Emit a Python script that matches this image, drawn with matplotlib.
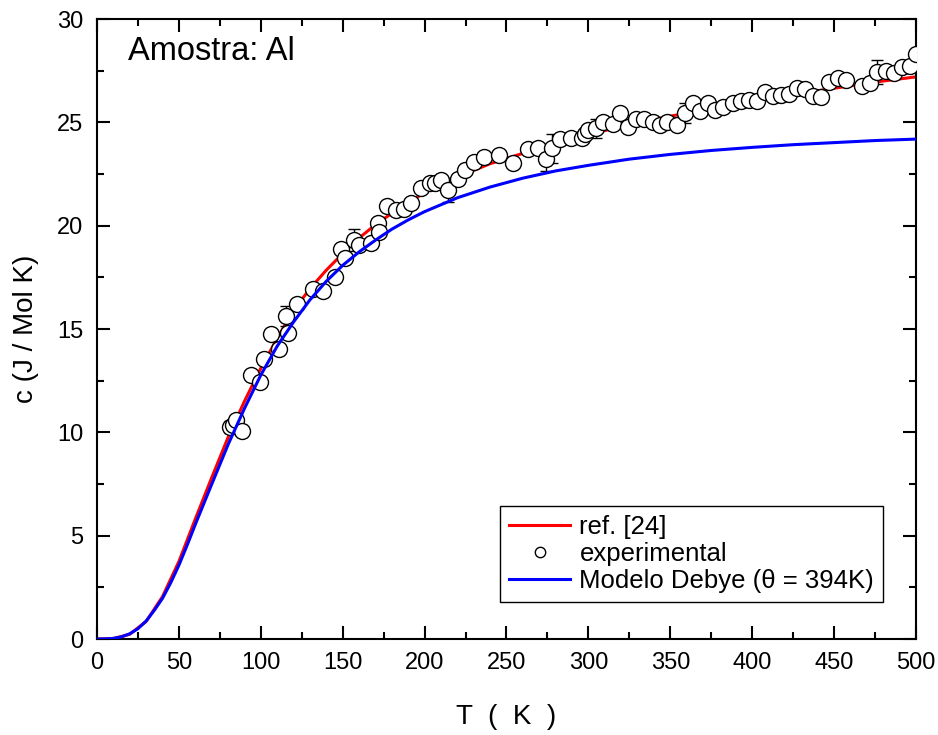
import matplotlib
matplotlib.use("Agg")
import matplotlib.pyplot as plt
from matplotlib.ticker import MultipleLocator

plt.rcParams['font.family'] = ['Liberation Sans', 'DejaVu Sans']

# curva de referencia [24]
T_ref = [0, 10, 20, 30, 40, 50, 60, 70, 80, 90, 100, 110, 120, 130, 140, 150,
         160, 170, 180, 190, 200, 220, 240, 260, 280, 300, 325, 350, 375, 400,
         425, 450, 475, 500]
c_ref = [0, 0.02, 0.23, 0.85, 2.05, 3.75, 5.8, 7.8, 9.75, 11.5, 13.1, 14.55,
         15.9, 16.95, 17.85, 18.65, 19.4, 20.05, 20.6, 21.1, 21.6, 22.35, 23.0,
         23.5, 23.95, 24.4, 24.9, 25.3, 25.65, 26.0, 26.35, 26.65, 26.95, 27.2]

# modelo de Debye (theta = 394 K)
T_deb = [0, 5, 10, 15, 20, 25, 30, 35, 40, 45, 50, 55, 60, 65, 70, 80, 90, 100,
         110, 120, 130, 140, 150, 160, 170, 180, 190, 200, 220, 240, 260, 280,
         300, 325, 350, 375, 400, 425, 450, 475, 500]
c_deb = [0, 0.004, 0.032, 0.107, 0.254, 0.5, 0.87, 1.39, 1.97, 2.72, 3.57,
         4.53, 5.54, 6.51, 7.48, 9.40, 11.15, 12.77, 14.17, 15.34, 16.41, 17.31,
         18.08, 18.73, 19.30, 19.83, 20.28, 20.68, 21.35, 21.87, 22.30, 22.65,
         22.92, 23.22, 23.45, 23.64, 23.79, 23.92, 24.02, 24.12, 24.19]

# dados experimentais
T_exp = [81.0, 83.0, 84.6, 88.3, 93.8, 99.5, 102.1, 106.2, 111.1, 115.2, 116.8,
         122.3, 131.7, 138.0, 145.3, 149.0, 151.4, 156.9, 160.0, 167.1, 171.3,
         172.2, 177.2, 182.4, 187.4, 191.5, 197.8, 203.3, 206.3, 210.0, 214.3,
         220.6, 224.7, 230.3, 236.3, 245.4, 254.0, 263.3, 269.2, 273.9, 277.6,
         282.7, 289.2, 295.9, 297.9, 299.9, 304.6, 309.1, 314.8, 319.3, 324.4,
         329.1, 334.1, 339.2, 343.7, 348.2, 353.9, 359.0, 364.0, 368.1, 373.2,
         377.3, 382.4, 388.1, 393.2, 398.1, 402.7, 407.8, 412.5, 417.6, 422.6,
         427.5, 432.2, 436.9, 442.0, 447.1, 452.2, 457.3, 466.8, 471.9, 476.0,
         481.5, 486.6, 491.3, 496.3, 500.0]
c_exp = [10.25, 10.35, 10.6, 10.08, 12.77, 12.45, 13.55, 14.74, 14.03, 15.63,
         14.79, 16.21, 16.92, 16.84, 17.53, 18.89, 18.42, 19.31, 19.06, 19.14,
         20.11, 19.71, 20.95, 20.78, 20.83, 21.11, 21.8, 22.05, 22.09, 22.2,
         21.73, 22.28, 22.69, 23.1, 23.3, 23.42, 23.02, 23.71, 23.74, 23.25,
         23.74, 24.19, 24.25, 24.22, 24.46, 24.65, 24.71, 25.04, 24.91, 25.47,
         24.76, 25.15, 25.15, 25.04, 24.85, 25.04, 24.88, 25.44, 25.92, 25.55,
         25.92, 25.6, 25.73, 25.95, 26.04, 26.06, 26.02, 26.49, 26.27, 26.32,
         26.37, 26.68, 26.61, 26.27, 26.21, 26.93, 27.16, 27.05, 26.76, 26.89,
         27.45, 27.5, 27.4, 27.7, 27.73, 28.3]
# barras de erro (só alguns pontos)
T_err = [81.0, 115.2, 156.9, 214.3, 273.9, 277.6, 304.6, 359.0, 476.0]
c_err = [10.25, 15.63, 19.31, 21.73, 23.25, 23.74, 24.71, 25.44, 27.45]
e_err = [0.3, 0.46, 0.55, 0.6, 0.6, 0.7, 0.45, 0.48, 0.58]

fig = plt.figure(figsize=(9.38, 7.35), dpi=100)
ax = fig.add_axes([0.1034, 0.1306, 0.8731, 0.8435])

ax.plot(T_ref, c_ref, color='red', lw=2.2, label='ref. [24]', zorder=1)
ax.errorbar(T_err, c_err, yerr=e_err, fmt='none', ecolor='black', elinewidth=1,
            capsize=4.5, capthick=1, zorder=2)
ax.plot(T_exp, c_exp, 'o', ms=11.5, mfc='white', mec='black', mew=1,
        label='experimental', zorder=3)
ax.plot(T_deb, c_deb, color='blue', lw=2.2, label='Modelo Debye (θ = 394K)', zorder=4)

ax.set_xlim(0, 500)
ax.set_ylim(0, 30)
ax.xaxis.set_major_locator(MultipleLocator(50))
ax.xaxis.set_minor_locator(MultipleLocator(25))
ax.yaxis.set_major_locator(MultipleLocator(5))
ax.yaxis.set_minor_locator(MultipleLocator(2.5))
ax.tick_params(which='both', direction='in', top=True, right=True, width=1.5,
               labelsize=17)
ax.tick_params(which='major', length=9.5)
ax.tick_params(which='minor', length=5)
ax.tick_params(axis='x', pad=9)
ax.tick_params(axis='y', pad=10)
for s in ax.spines.values():
    s.set_linewidth(1.5)

ax.set_xlabel('T  (  K  )', fontsize=20, labelpad=22)
ax.set_ylabel('c (J / Mol K)', fontsize=20, labelpad=13)

ax.text(0.038, 0.934, 'Amostra: Al', transform=ax.transAxes, fontsize=23.5,
        va='baseline', ha='left')

leg = ax.legend(loc='lower right', bbox_to_anchor=(0.96, 0.06), borderaxespad=0,
                fontsize=18.5, frameon=True, fancybox=False, edgecolor='black',
                framealpha=1, handlelength=2.4, handletextpad=0.35,
                labelspacing=0.12, borderpad=0.35, markerscale=0.65)
leg.get_frame().set_linewidth(1)

fig.savefig('out.png', dpi=100)
